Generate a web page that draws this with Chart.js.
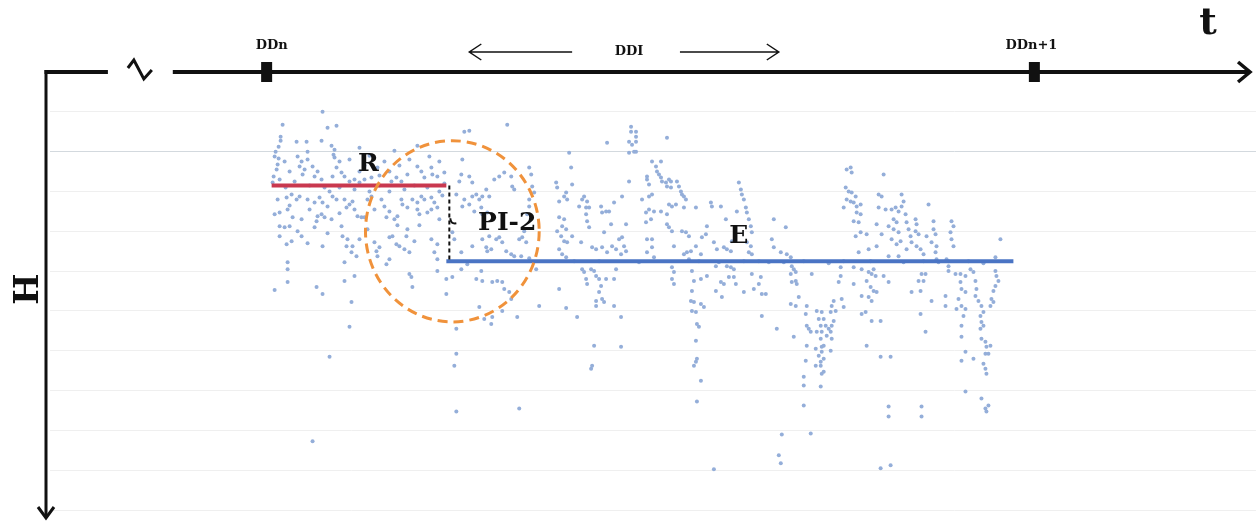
<!DOCTYPE html>
<html>
<head>
<meta charset="utf-8">
<script src="https://cdn.jsdelivr.net/npm/chart.js@4.4.1/dist/chart.umd.min.js"></script>
<style>
  body { margin: 0; background: #fff; }
  #wrap { width: 1258px; height: 525px; position: relative; }
</style>
</head>
<body>
<div id="wrap"><canvas id="headChart"></canvas></div>
<script>
// time t (arbitrary units) and H readings
const readingsR = [
  [27.3,20],[23.3,26.5],[27.8,28],[28.7,27],[23.1,32.5],[23.1,34.5],[22.9,37.5],[24.7,35],[25.7,35],[27.2,34.5],[28.2,37],[28.5,39],[28.4,41.5],[25.8,40],[31,38],[34.5,39.5],[36.8,37],[38,42.5],
  [22.5,42.5],[22.9,43.5],[22.8,46.5],[22.7,49],[22.4,52.5],[23,54],[22.3,55.5],[24.8,42.5],[25.2,45],[25,47.5],[25.5,49],[25.3,51.5],[25.8,44],[26.3,47.5],[26.8,50],[26.5,52.5],[27.2,54],[28.5,43],[29,45],[28.7,48],[29.2,50.5],[28.3,52.5],[29.5,52.5],[30,55],[30.5,54],[31.5,54],[32.2,53],[31,55.5],[34.7,53],[35.2,55],[34.2,55],[36.8,47.5],[37.2,50],[38.2,48],[38.3,51.5],[37.5,53],[38.8,52.5],[39.5,50.5],
  [22.6,40],[23.5,45],[24,50],[24.5,55],[23.6,58],[26,57],[27.5,58],[28,60],[29,58],[30.5,59],[32,60],[33,57],[34,60],[35.5,59],[36.5,57],[37.8,58],[39,60],[39.3,62],[32.8,48],[33.5,45],[34,50],[35,47],[36,44],[31.5,47],[32,42],[30,44],[31,50],[33,52],[35.8,51.5],[39,45],[39.5,56],
  [22.8,64],[23.7,63],[24.2,61.5],[24.7,64],[25,62.5],[22.5,71.5],[23,70.5],[23.8,69],[24.3,73],[25.2,74],[25.8,64],[26.5,65.5],[27,63],[27.3,65.5],[27.8,67.5],[28.3,62.5],[28.7,64],[26.8,72.5],[27.2,71.5],[27.5,73],[26.7,75],[26.5,78],[28.2,74],[29.5,64],[30,66.5],[29.7,68],[30.3,65],[30.5,69],[30.8,72.5],[31.2,73],[31.5,73],[31.8,64],[32.2,62.5],[33.2,64],[33.5,67.5],[34,70],[33.7,73],[34.5,74],[34.8,72.5],[35.2,64],[35.3,66.5],[35.8,68],[36.3,64],[36.8,65.5],[37.2,62.5],[37.5,64],[38.2,63],[38.5,65.5],[38.8,68],[36.8,69],[37,71.5],[37.8,70.5],[38.2,69],
  [24,67],[26,69],[29,71],[32.5,69],[34.8,77],[37,77],[39,74],[24.8,80],[27.8,81],[31.8,79],[36.5,85],[33,88],
  [23,77.5],[23.5,78],[24,77.5],[23,82.5],[23.7,86.5],[24.2,85],[25.2,82.5],[25.8,86],[27.3,87.5],[29.2,77.5],[29.3,82.5],[29.8,84],[29.7,87.5],[30.3,87.5],[30.2,90.5],[30.7,92.5],[31,84],[32.5,85.5],[32.7,90],[32.8,92.5],[34,83],[34.3,82.5],[34.7,86.5],[35,87.5],[35.5,89],[36,90.5],[35.7,82.5],[35.8,79],[38.2,84],[38.8,86.5],[38.5,90.5],[38.8,94],
  [23.8,95.5],[23.8,99],[23.8,105.5],[22.5,109.5],[26.7,108],[27.3,111.5],[29.5,95.5],[29.5,105],[30.5,102.5],[30.2,115.5],[30,128],[28,143],[26.3,185.5],[34,94],[33.7,96.5],[36,101.5],[36.2,103],[36.3,108],[38.8,100],[39.7,111.5],[39.7,104]
];

const readingsE = [
  [41.5,30],[42,29.5],[45.8,26.5],[41.3,44],[41.2,51.5],[42,52.5],[41,55],[42.3,55.5],[44.5,54],[45,52.5],[45.5,50.5],[46.2,52.5],[46.3,57.5],[46.5,59],[48,48],[48.2,51.5],[48.3,57.5],[48.5,60.5],[48,64],[48,67.5],[47.8,71.5],
  [40.7,61.5],[41.5,64],[42.3,62.5],[42.7,61.5],[43,64],[43.3,62.5],[43.7,59],[44,62.5],[41.3,67.5],[42,66.5],[42.5,70],[43.2,68],[43.3,71.5],[43.8,70.5],
  [40.3,80.5],[40.5,84],[41.2,90.5],[42.3,87.5],[43.3,84],[43.7,88],[44,82.5],[44.7,84],[45,83],[45.3,85.5],[45.7,90],[43.8,90],[44.2,89],[47,84],[47.3,83],[47.7,85.5],[47.5,80],[46.2,91.5],[46.5,92.5],[47.2,92.5],[48,93.5],
  [40.3,103],[41.2,99],[41.8,96.5],[42.7,104],[43.2,100],[43.3,105],[44.3,105.5],[44.8,105],[45.3,105.5],[45.5,109],[46,110.5],[46.2,114],[48.7,99],[43,118],[43.5,124],[44.3,123],[44.2,126.5],[45.3,120],[46.8,123],[49,117.5],[40.7,129],[40.7,141.5],[40.5,147.5],[40.7,170.5],[47,169],
  [50.7,55.5],[50.8,58],[52,40.5],[52.2,48],[52.3,56.5],[51,65],[51.5,62.5],[51.7,60.5],[51.8,64],[51,73],[51.5,74],[51.3,77.5],[51.7,79],[50.8,80],[51.2,82.5],[51.5,85],[51.8,85.5],[51,89],[51.3,91.5],[51.7,93],[52.3,82.5],[53.2,85.5],
  [53,67.5],[53.3,64],[53.5,62.5],[53.8,65],[53.7,68],[54,68],[53.7,71.5],[53.8,75],[54,78],[55.2,67.5],[55.3,70.5],[55.7,70],[56,70],[56.2,76.5],[55.5,80.5],[56.5,65.5],[57.3,62.5],
  [54.3,88],[54.7,89],[55.3,88],[55.8,90.5],[56.3,87.5],[56.7,89],[57,84],[57.3,83],[57.5,87.5],[57.7,90],[57.2,91.5],[57.7,76.5],
  [53.3,99],[53.5,100.5],[53.7,104],[53.8,106.5],[54.2,99],[54.5,100],[54.7,102.5],[55,104],[55.2,107.5],[55,110.5],[55.3,114],[55.5,115.5],[54.7,115],[54.7,117.5],[55.7,104],[56.5,104],[56.7,99],[56.5,117.5],[52.8,123],[51.7,118.5],[51,109],[57.2,123],[54.5,137.5],[54.3,147.5],[54.2,149],[57.2,138],
  [55.8,35.5],[58,35],[58.2,27.5],[58.2,30],[58.3,36.5],[58.5,40],[58,40.5],[58,55],
  [58.7,30],[58.7,32.5],[58.7,35],[58.7,40],[61.8,33],[60.3,45],[61.2,45],[60.7,47.5],[60.8,50],[61,51.5],[61.2,53],[61.3,55],[61.7,55.5],[61.8,57.5],[62.2,58],[62,54],[62.2,55],[59.8,52.5],[59.8,54],[60,56.5],
  [62.8,55],[63,57.5],[63.2,60],[63.3,61.5],[63.5,62.5],[63.7,64],[59.3,64],[60,62.5],[60.3,61.5],[59.7,70.5],[60,69],[60.5,70],[61.2,70],[61.8,71.5],[62,66.5],[62.3,67.5],[62.7,66.5],
  [59.7,75.5],[60.2,74],[61.8,76.5],[62,78],[62.3,80],[63.3,80],[63.7,80.5],[64,82.5],[63.5,68],[64.7,68],[59.8,84],[60.3,84],[59.8,90.5],[60.3,88],[62.5,87.5],[63.5,91.5],[63.8,90.5],[64.2,90],[64.7,87.5],[65.2,91.5],[65.3,83],[65.7,81.5],[65.8,77.5],[66.2,65.5],[66.3,67.5],[67.2,67.5],
  [66.5,85.5],[66.8,89],[67.5,88],[67.8,89],[68.2,90],[67.7,74],[68.3,85],[68.8,70],[69,55.5],[69.2,59],[69.3,61.5],[69.5,64],[69.7,68],[69.8,70.5],[70,74],[70.2,77.5],[70.3,80.5],[69.8,85.5],[70.2,87.5],[70,90.5],[70.3,91.5],
  [62.3,98],[62.5,100.5],[62.3,104],[62.5,106.5],[64.3,100],[64.5,105],[65.2,104],[65.8,102.5],[66.7,97.5],[67.2,105.5],[67.5,106.5],[67.8,97.5],[68.2,98],[68.5,99],[68,103],[68.5,103],[68.7,106.5],[66.7,110],[67.3,113],[69.5,110.5],[70.3,101.5],[70.5,109],[71.2,103],[71,106.5],[71.3,111.5],[71.7,111.5],[71.3,122.5],
  [64.3,110],[64.2,115],[64.5,115.5],[65.2,116.5],[65.5,118],[64.3,120],[64.7,120.5],[64.8,126.5],[65,128],[64.7,135],[64.8,144],[64.5,147.5],[64.7,145.5],[65.2,155],[64.8,165.5],[66.5,199.5],[73,192.5],[73.2,196.5],
  [72.5,74],[73.7,78],[72.3,84],[72.5,88],[73.2,90.5],[73.8,91.5],[74.2,93],[72,95.5],[74.3,97.5],[74.5,99],[74.7,100.5],[74.2,101.5],[74.7,105],[74.8,106.5],[74.3,105.5],[76.3,101.5],[75,113],[74.2,116.5],[74.7,117.5],[75.8,117.5],[75.7,121.5],[75.8,127.5],[76,129],[76.2,130.5],[75.8,137.5],[76.7,139],[75.7,145],[75.5,153],[75.5,157.5],[75.5,167.5],[76.2,181.5],[73.3,182],[74.5,133],[72.8,129],
  [76.8,120],[77,124],[77.2,127.5],[76.8,130.5],[77.2,134],[77.3,138],[77,142.5],[77.2,145.5],[76.7,147.5],[77.5,150.5],
  [77.3,120.5],[77.5,124],[77.7,127.5],[77.3,130.5],[77.8,132.5],[78,129],[78.2,130.5],[78.3,134],[77.5,137.5],[77.3,140.5],[77.5,144],[77.2,147.5],[77.3,151.5],[77.2,158],[78.2,120.5],[78.3,117.5],[78.5,115],[78.7,120],[79,105.5],[79.2,102.5],[79.3,114],[79.5,118],[78.2,140],[78.5,125],[78.3,127.5],[79.2,98],
  [79.8,49],[80.2,48],[80.3,50.5],[79.7,58],[80,60],[80.3,60.5],[80.7,62.5],[79.8,64],[80.2,65],[80.5,65.5],[80.8,67.5],[81.2,66.5],[79.5,68],[80.8,70.5],[81.2,71.5],[80.5,75],[81,75.5],[80.7,82.5],[81.2,80.5],[81.8,81.5],[81,90.5],[82,89],
  [80.5,98],[80.5,106.5],[81.3,99],[82,100.5],[81.8,105],[82.3,101.5],[82.5,99],[82.7,102.5],[82.2,108],[82.5,110],[82.8,110.5],[82,113],[82.3,115],[81.3,112.5],[81.3,121.5],[81.7,120.5],[81.8,137.5],[82.3,125],[83.2,125],[83.2,143],[84.2,143],[84,105.5],[83.5,102.5],
  [83.5,51.5],[83,61.5],[83.3,62.5],[83,68],[83.7,69],[82.8,76.5],[83.3,81.5],[82.8,87.5],[84,77.5],[84.3,69],[84.7,68],[85,70],[84.5,74],[84.8,75.5],[84.5,79],[85,80.5],[84.3,84],[84.8,86.5],[85.2,85],[84,92.5],[85,92.5],
  [85.3,61.5],[85.5,65],[85.7,71.5],[85.8,75.5],[86,79],[86.2,82.5],[86.3,85.5],[85.8,89],[85.3,67.5],[86.7,74],[86.8,76.5],[86.7,80],[87,81.5],[86.8,87.5],[87.2,89],[87.5,91.5],[88,66.5],[87.8,82.5],[88.5,75],[88.5,79],[88.7,81.5],[88.3,85.5],[88.8,87.5],[88.7,90.5],[88.8,94],[89,95.5],
  [90.3,75],[90.5,77.5],[90.2,80.5],[90.3,84],[90.5,87.5],[89.8,94],[90,97.5],[90,100],
  [95.2,84],[94.7,93],[94.7,100],[94.8,102.5],[95,105],[94.7,107.5],[94.5,110],[94.3,114],[94.5,115.5],[94.2,117.5],
  [86.3,110.5],[87.2,110],[87,105],[87.3,101.5],[87.7,101.5],[87.5,105],[87.2,121.5],[87.7,130.5],[88.3,115],[89.7,112.5],[89.7,117.5],
  [90.7,101.5],[91.2,101.5],[91.7,102.5],[91.2,105.5],[91.3,109],[91.7,110.5],[91,114],[91.3,117.5],[90.8,119],[91.7,119],[91.5,122.5],[91.3,127.5],[91.3,133],[91.7,140.5],[91.3,145],[92.5,144],[91.7,160.5],
  [92.2,99],[92.5,100.5],[92.7,105],[92.8,109],[92.7,112.5],[93,115],[93.3,117.5],[93.5,120.5],[93.2,122.5],[93.3,125.5],[93.5,127.5],[93.2,129],[93.3,134],[93.7,135.5],[93.8,138],[93.5,146.5],[93.7,149],[93.8,151.5],[94,141.5],[94.2,137.5],[93.7,141.5],[93.3,164],[93.7,169],[93.8,170.5],[94,167.5],
  [83.2,199],[84.2,197.5],[84,168],[84,173],[87.3,168],[87.3,173],
  [52.5,95],[55,95],[59,95.5],[60.5,93],[64,94],[65,95],[67,95.5],[69.5,95],[71,95],[73.5,95.5],[75.5,95],[78,96],[79.5,95],[82.2,95],[85.5,95.5],[87.5,95],[90,95],[92,95],[93.5,96]
];

// levels and time marks
const levelR = 57;          // reference level R
const levelE = 95;          // level E
const ddiStart = 39.7;
const rStart = 22.2;
const eEnd = 96.5;
const ddnMarks = [21.7, 98.6];
const ddnNames = ['DDn', 'DDn+1'];
const hGrid = [20, 40, 60, 80, 100, 120, 140, 160, 180, 200, 220];

const toPts = arr => arr.map(p => ({ x: p[0], y: p[1] }));

const ink = '#111';
const serif = '"DejaVu Serif", "Liberation Serif", serif';

const decor = {
  id: 'decor',
  afterDatasetsDraw(chart) {
    const { ctx, chartArea: a, scales: { x, y } } = chart;

    // orange dashed circle around the change
    const cx = x.getPixelForValue(40.3), cy = y.getPixelForValue(80);
    const rx = x.getPixelForValue(49) - cx, ry = y.getPixelForValue(125.5) - cy;
    ctx.save();
    ctx.strokeStyle = '#f0923b';
    ctx.lineWidth = 3;
    ctx.setLineDash([10, 6]);
    ctx.beginPath();
    ctx.ellipse(cx, cy, rx, ry, 0, 0, Math.PI * 2);
    ctx.stroke();
    ctx.restore();

    // little brace hook on the drop
    const bx = x.getPixelForValue(40), by = y.getPixelForValue(76);
    ctx.save();
    ctx.strokeStyle = ink;
    ctx.lineWidth = 2;
    ctx.beginPath();
    ctx.moveTo(bx + 1, by - 5);
    ctx.quadraticCurveTo(bx + 1, by + 1, bx + 7, by);
    ctx.stroke();
    ctx.restore();
  },
  afterDraw(chart) {
    const { ctx, chartArea: a, scales: { x, y } } = chart;
    const top = a.top;
    const left = a.left - 4;
    ctx.save();
    ctx.strokeStyle = ink;
    ctx.fillStyle = ink;
    ctx.lineCap = 'butt';

    // time axis with break
    ctx.lineWidth = 4;
    ctx.beginPath();
    ctx.moveTo(left - 1.5, top);
    ctx.lineTo(x.getPixelForValue(5.8), top);
    ctx.moveTo(x.getPixelForValue(12.3), top);
    ctx.lineTo(x.getPixelForValue(120.1), top);
    ctx.stroke();
    ctx.lineWidth = 3.5;
    ctx.beginPath();
    ctx.moveTo(x.getPixelForValue(119), top - 10);
    ctx.lineTo(x.getPixelForValue(120.2), top);
    ctx.lineTo(x.getPixelForValue(119), top + 10);
    ctx.stroke();
    // break symbol
    ctx.lineWidth = 3;
    ctx.beginPath();
    ctx.moveTo(x.getPixelForValue(7.8), top - 4);
    ctx.lineTo(x.getPixelForValue(8.4), top - 12);
    ctx.lineTo(x.getPixelForValue(9.4), top + 7);
    ctx.lineTo(x.getPixelForValue(10.2), top - 2);
    ctx.stroke();

    // H axis pointing down
    ctx.lineWidth = 3;
    ctx.beginPath();
    ctx.moveTo(left, top - 2);
    ctx.lineTo(left, a.bottom - 5);
    ctx.stroke();
    ctx.beginPath();
    ctx.moveTo(left - 8, a.bottom - 16);
    ctx.lineTo(left, a.bottom - 5);
    ctx.lineTo(left + 8, a.bottom - 16);
    ctx.stroke();

    // DD markers and names
    ctx.textAlign = 'center';
    ctx.textBaseline = 'middle';
    ctx.font = 'bold 13px ' + serif;
    ddnMarks.forEach((t, i) => {
      const px = x.getPixelForValue(t);
      ctx.fillRect(px - 5.5, top - 10, 11, 20);
      ctx.fillText(ddnNames[i], px + (i === 0 ? 5 : -3), top - 26);
    });

    // DDI span
    ctx.fillText('DDI', x.getPixelForValue(58), top - 20);
    ctx.lineWidth = 1.5;
    const ay = top - 20;
    const l0 = x.getPixelForValue(42), l1 = x.getPixelForValue(52.3);
    const r0 = x.getPixelForValue(63.1), r1 = x.getPixelForValue(73);
    ctx.beginPath();
    ctx.moveTo(l1, ay); ctx.lineTo(l0, ay);
    ctx.moveTo(l0 + 12, ay - 8); ctx.lineTo(l0, ay); ctx.lineTo(l0 + 12, ay + 8);
    ctx.moveTo(r0, ay); ctx.lineTo(r1, ay);
    ctx.moveTo(r1 - 12, ay - 8); ctx.lineTo(r1, ay); ctx.lineTo(r1 - 12, ay + 8);
    ctx.stroke();

    // axis names
    ctx.font = 'bold 38px ' + serif;
    ctx.fillText('t', x.getPixelForValue(116), 24);
    ctx.save();
    ctx.translate(29, y.getPixelForValue(109));
    ctx.rotate(-Math.PI / 2);
    ctx.font = 'bold 33px ' + serif;
    ctx.fillText('H', 0, 0);
    ctx.restore();

    // level labels
    ctx.font = 'bold 25px ' + serif;
    ctx.fillText('R', x.getPixelForValue(31.9), y.getPixelForValue(46.5));
    ctx.fillText('PI-2', x.getPixelForValue(45.8), y.getPixelForValue(76));
    ctx.fillText('E', x.getPixelForValue(69), y.getPixelForValue(82.5));
    ctx.restore();
  }
};

const scatterStyle = {
  type: 'scatter',
  pointRadius: 2,
  pointHoverRadius: 2,
  pointBackgroundColor: 'rgb(148,174,217)',
  pointBorderWidth: 0,
  order: 5
};

new Chart(document.getElementById('headChart'), {
  type: 'scatter',
  data: {
    datasets: [
      Object.assign({ label: 'H before DDI', data: toPts(readingsR) }, scatterStyle),
      Object.assign({ label: 'H after DDI', data: toPts(readingsE) }, scatterStyle),
      {
        type: 'line', label: 'R', order: 1,
        data: [{ x: rStart, y: levelR }, { x: ddiStart, y: levelR }],
        borderColor: '#c9384f', borderWidth: 4, pointRadius: 0, fill: false
      },
      {
        type: 'line', label: 'E', order: 1,
        data: [{ x: ddiStart, y: levelE }, { x: eEnd, y: levelE }],
        borderColor: '#4a74c4', borderWidth: 4, pointRadius: 0, fill: false
      },
      {
        type: 'line', label: 'PI-2', order: 0,
        data: [{ x: 40, y: levelR }, { x: 40, y: levelE }],
        borderColor: ink, borderWidth: 2, borderDash: [4, 3], pointRadius: 0, fill: false
      }
    ]
  },
  options: {
    responsive: true,
    maintainAspectRatio: false,
    animation: false,
    layout: { padding: { left: 50, top: 72, right: 0, bottom: 0 } },
    plugins: { legend: { display: false }, tooltip: { enabled: false } },
    scales: {
      x: { type: 'linear', min: 0, max: 120.8, display: false },
      y: {
        type: 'linear', reverse: true, min: 0, max: 226.5,
        afterBuildTicks: scale => { scale.ticks = hGrid.map(v => ({ value: v })); },
        ticks: { display: false },
        border: { display: false },
        grid: {
          drawTicks: false,
          lineWidth: 1,
          color: c => (c.tick && c.tick.value === 40 ? '#d3d9de' : '#efefef')
        }
      }
    }
  },
  plugins: [decor]
});
</script>
</body>
</html>
